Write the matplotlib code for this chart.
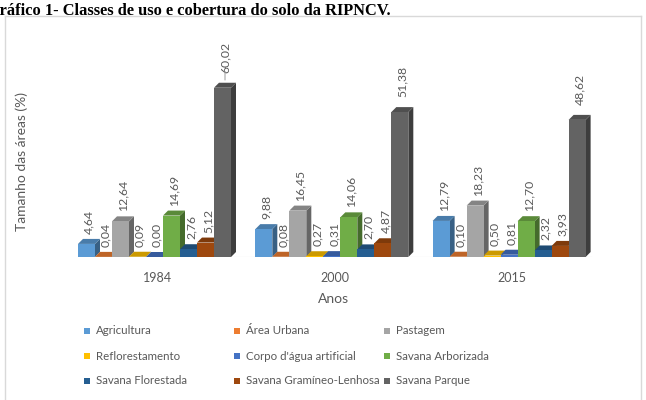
import numpy as np
import matplotlib
matplotlib.use("Agg")
import matplotlib.pyplot as plt
from matplotlib.patches import Polygon, Rectangle
from matplotlib.colors import to_rgb

plt.rcParams['font.family'] = ['Lato', 'DejaVu Sans']

# data (percent of area)
anos = ["1984", "2000", "2015"]
classes = ["Agricultura", "Área Urbana", "Pastagem",
           "Reflorestamento", "Corpo d'água artificial", "Savana Arborizada",
           "Savana Florestada", "Savana Gramíneo-Lenhosa", "Savana Parque"]
agricultura = [4.64, 9.88, 12.79]
area_urbana = [0.04, 0.08, 0.10]
pastagem = [12.64, 16.45, 18.23]
reflorestamento = [0.09, 0.27, 0.50]
corpo_agua = [0.00, 0.31, 0.81]
savana_arborizada = [14.69, 14.06, 12.70]
savana_florestada = [2.76, 2.70, 2.32]
savana_gramineo = [5.12, 4.87, 3.93]
savana_parque = [60.02, 51.38, 48.62]
series = [agricultura, area_urbana, pastagem, reflorestamento, corpo_agua,
          savana_arborizada, savana_florestada, savana_gramineo, savana_parque]
cores = ["#5B9BD5", "#ED7D31", "#A5A5A5", "#FFC000", "#4472C4",
         "#70AD47", "#255E91", "#9E480E", "#636363"]

TXT = "#595959"
W, H = 646, 400
fig = plt.figure(figsize=(W / 100, H / 100), dpi=100)


def px(x, y):
    return x / W, 1 - y / H


def shade(c, f):
    return tuple(v * f for v in to_rgb(c))


# chart frame
fig.add_artist(plt.Line2D([5 / W, 641 / W], [1 - 16 / H, 1 - 16 / H], color="#D9D9D9", lw=1))
fig.add_artist(plt.Line2D([5 / W, 5 / W], [1 - 16 / H, 0], color="#D9D9D9", lw=1))
fig.add_artist(plt.Line2D([641 / W, 641 / W], [1 - 16 / H, 0], color="#D9D9D9", lw=1))

fig.text(-12.7 / W, 1 - 15 / H, "Gráfico 1- Classes de uso e cobertura do solo da RIPNCV.",
         family="Liberation Serif", weight="bold", fontsize=11.8, va="baseline", ha="left")

ax = fig.add_axes([60 / W, 143 / H, 560 / W, 217 / H])
ax.set_xlim(-94.5 / 17, 465.5 / 17)
ax.set_ylim(0, 217 / 2.82)
ax.axis("off")

step = 10.43
dx, dy = 5 / 17, 5 / 2.82
centros = np.arange(len(anos)) * step
ax.plot([centros[0] - 4.5, centros[-1] + 4.5 + dx], [0, 0], color="#D9D9D9", lw=0.8, zorder=0)

for g, c0 in enumerate(centros):
    for i, (vals, cor) in enumerate(zip(series, cores)):
        v = vals[g]
        x0 = c0 - 4.5 + i
        x1 = x0 + 1
        z = 2 + i
        ax.add_patch(Polygon([(x1, 0), (x1 + dx, dy), (x1 + dx, v + dy), (x1, v)],
                             closed=True, fc=shade(cor, 0.62), ec="none", zorder=z))
        ax.add_patch(Polygon([(x0, v), (x0 + dx, v + dy), (x1 + dx, v + dy), (x1, v)],
                             closed=True, fc=shade(cor, 0.8), ec="none", zorder=z))
        ax.add_patch(Rectangle((x0, 0), 1, v, fc=cor, ec="none", zorder=z))
        off = 15 if v > 40 else 10
        ax.annotate(f"{v:.2f}".replace(".", ","), (x0 + 0.5 + dx / 2, v),
                    xytext=(0, off * 0.72), textcoords="offset points",
                    rotation=90, ha="center", va="bottom", fontsize=8.8, color=TXT, zorder=20)
        if v == max(savana_parque):
            ax.annotate("", (x0 + 0.5 + dx / 2, v + dy), xytext=(0, off * 0.72 - 1),
                        textcoords="offset points",
                        arrowprops=dict(arrowstyle="-", color="#A6A6A6", lw=0.8), zorder=20)
    fig.text(*px(60 + (c0 + 94.5 / 17) * 17 + 3, 278), anos[g], ha="center", va="center",
             fontsize=9, color=TXT)

fig.text(*px(334, 299), "Anos", ha="center", va="center", fontsize=10, color=TXT)
fig.text(*px(22, 161), "Tamanho das áreas (%)", rotation=90, ha="center", va="center",
         fontsize=10, color=TXT)

# legend, 3 columns
col_x = [87, 237, 387]
row_y = [331, 356, 381]
for k, (nome, cor) in enumerate(zip(classes, cores)):
    x, y = col_x[k % 3], row_y[k // 3]
    fig.add_artist(Rectangle(px(x - 3.2, y + 3.2), 6.5 / W, 6.5 / H, fc=cor, ec="none",
                             transform=fig.transFigure))
    fig.text(*px(x + 9, y), nome, ha="left", va="center", fontsize=8.3, color=TXT)

fig.savefig("out.png", dpi=100)
